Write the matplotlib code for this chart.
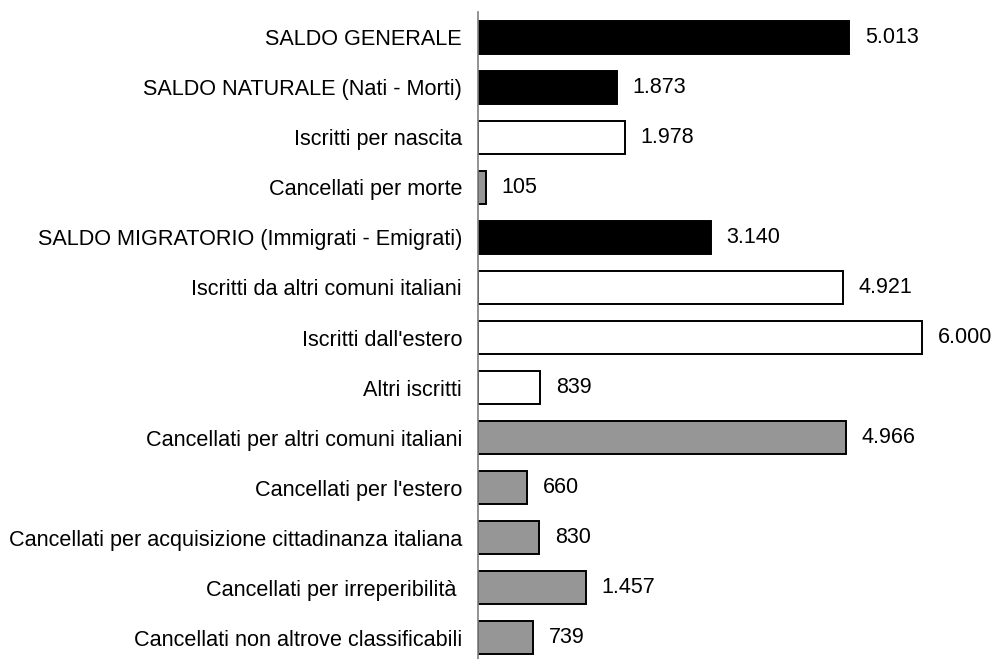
import matplotlib
matplotlib.use("Agg")
import matplotlib.pyplot as plt

plt.rcParams["font.family"] = ["Liberation Sans", "DejaVu Sans"]

LABELS = [
    "SALDO GENERALE",
    "SALDO NATURALE (Nati - Morti)",
    "Iscritti per nascita",
    "Cancellati per morte",
    "SALDO MIGRATORIO (Immigrati - Emigrati)",
    "Iscritti da altri comuni italiani",
    "Iscritti dall'estero",
    "Altri iscritti",
    "Cancellati per altri comuni italiani",
    "Cancellati per l'estero",
    "Cancellati per acquisizione cittadinanza italiana",
    "Cancellati per irreperibilità ",
    "Cancellati non altrove classificabili",
]
VALUES = [5013, 1873, 1978, 105, 3140, 4921, 6000, 839, 4966, 660, 830, 1457, 739]
KINDS = ["saldo", "saldo", "iscr", "canc", "saldo", "iscr", "iscr", "iscr",
         "canc", "canc", "canc", "canc", "canc"]

FILL = {"saldo": "black", "iscr": "white", "canc": "#969696"}


def fmt_it(v):
    return f"{v:,}".replace(",", ".")


fig = plt.figure(figsize=(9.94, 6.59), dpi=100)
ax = fig.add_axes([478 / 994, -4 / 659, 516 / 994, 651 / 659])

ypos = list(range(len(LABELS)))
colors = [FILL[k] for k in KINDS]
ax.barh(ypos, VALUES, height=0.66, color=colors, edgecolor="black", linewidth=1.4)

for y, v in zip(ypos, VALUES):
    ax.text(v + 215, y, fmt_it(v), va="center", ha="left", fontsize=15.5)

ax.set_xlim(0, 516 * 13.5)
ax.set_ylim(len(LABELS) - 0.5, -0.5)
ax.set_yticks(ypos)
ax.set_yticklabels(LABELS, fontsize=15.6)
ax.tick_params(axis="y", length=0, pad=11.5)
ax.set_xticks([])

for side in ["top", "right", "bottom"]:
    ax.spines[side].set_visible(False)
ax.spines["left"].set_color("#808080")
ax.spines["left"].set_linewidth(1.2)

fig.savefig("out.png", dpi=100)
